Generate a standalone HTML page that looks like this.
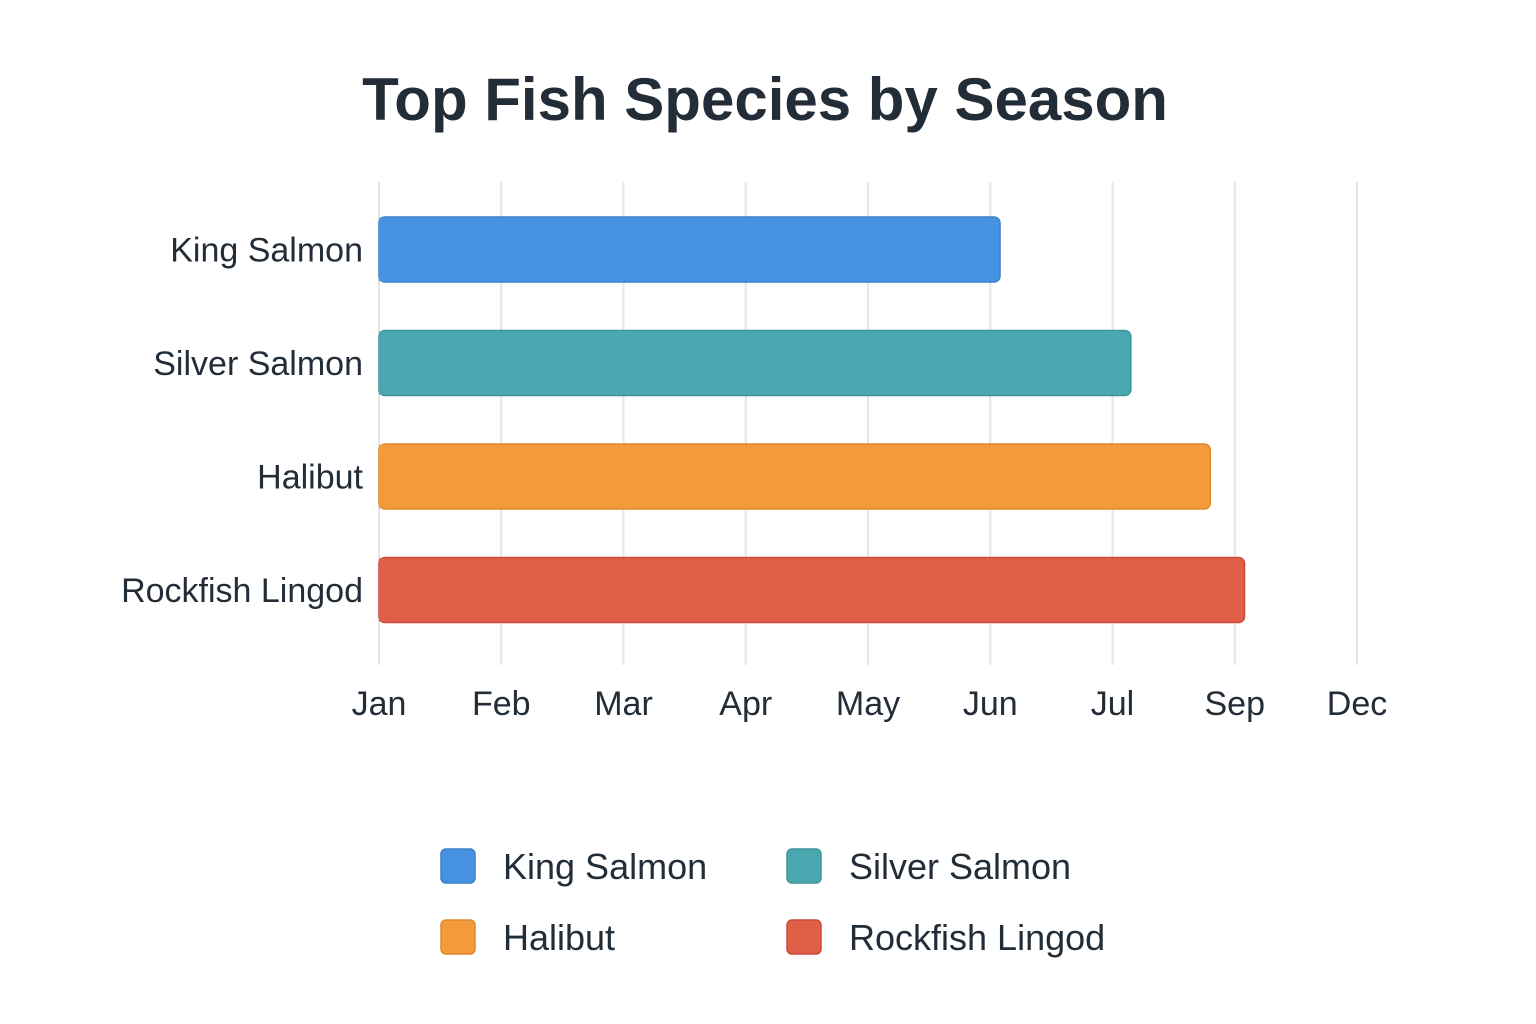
<!DOCTYPE html>
<html><head><meta charset="utf-8"><style>
html,body{margin:0;padding:0;background:#fff;}
svg{display:block;font-family:"Liberation Sans","DejaVu Sans",sans-serif;}
</style></head><body>
<svg id="chart" width="1536" height="1024" viewBox="0 0 1536 1024">
<text x="765" y="120" text-anchor="middle" font-size="60" font-weight="bold" fill="#232d38">Top Fish Species by Season</text>
<g id="grid"></g><g id="bars"></g><g id="ylabels"></g><g id="xlabels"></g><g id="legend"></g>
</svg>
<script>
const categories = ["King Salmon","Silver Salmon","Halibut","Rockfish Lingod"];
const endValues = [5.08, 6.15, 6.8, 7.08];
const tickLabels = ["Jan","Feb","Mar","Apr","May","Jun","Jul","Sep","Dec"];
const colors = ["#4793e1","#4aa8b0","#f39a3b","#e05f48"];
const strokes = ["#3a80cc","#3e959c","#e0882c","#cc4c38"];
const NS="http://www.w3.org/2000/svg";
const x0=379, step=122.25;
const xs=v=>x0+v*step;
const ys=i=>217+i*113.5;
const bh=65;
function mk(tag,attrs,parent){const e=document.createElementNS(NS,tag);for(const k in attrs)e.setAttribute(k,attrs[k]);parent.appendChild(e);return e;}
const grid=document.getElementById('grid'),bars=document.getElementById('bars'),yl=document.getElementById('ylabels'),xl=document.getElementById('xlabels'),lg=document.getElementById('legend');
tickLabels.forEach((t,i)=>{
  const l=mk('line',{x1:xs(i),x2:xs(i),y1:182,y2:665,stroke:'#e6e6e6','stroke-width':2},grid);
  
  
  const tx=mk('text',{x:xs(i),y:715,'text-anchor':'middle','font-size':34,fill:'#232d38'},xl);
  tx.textContent=t;
  
  
});
categories.forEach((c,i)=>{
  const r=mk('rect',{x:x0,y:ys(i),width:xs(endValues[i])-x0,height:bh,rx:6,fill:colors[i],stroke:strokes[i],'stroke-width':1.5},bars);
  
  
  mk('rect',{x:x0,y:ys(i)+0.75,width:8,height:bh-1.5,fill:colors[i]},bars);
  const t=mk('text',{x:363,y:ys(i)+bh/2+12,'text-anchor':'end','font-size':34,fill:'#232d38'},yl);
  t.textContent=c;
  
  
});
const lpos=[[441,849],[787,849],[441,920],[787,920]];
categories.forEach((c,i)=>{
  const [lx,ly]=lpos[i];
  const g=mk('g',{},lg);
  
  
  mk('rect',{x:lx,y:ly,width:34,height:34,rx:5,fill:colors[i],stroke:strokes[i],'stroke-width':1.5},g);
  const t=mk('text',{x:lx+62,y:ly+30,'font-size':36,fill:'#232d38'},g);
  t.textContent=c;
});
</script>
</body></html>
